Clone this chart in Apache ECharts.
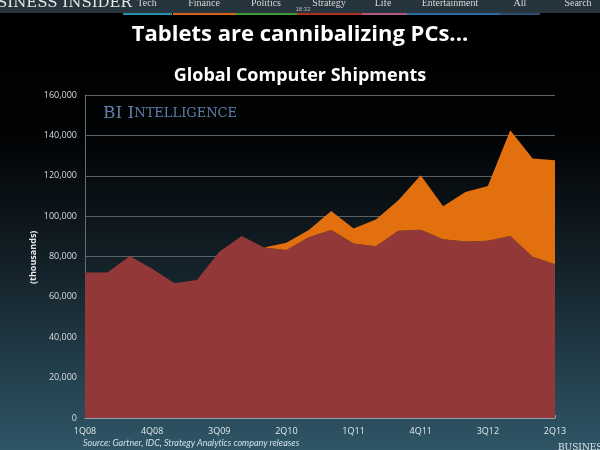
<!DOCTYPE html>
<html>
<head>
<meta charset="utf-8">
<script src="https://cdn.jsdelivr.net/npm/echarts@6/dist/echarts.min.js"></script>
<style>
  html, body { margin: 0; padding: 0; background: #000; }
  #main { width: 600px; height: 450px; }
</style>
</head>
<body>
<div id="main"></div>
<script>
// quarters 1Q08 .. 2Q13
var quarters = ['1Q08','2Q08','3Q08','4Q08','1Q09','2Q09','3Q09','4Q09','1Q10','2Q10','3Q10',
                '4Q10','1Q11','2Q11','3Q11','4Q11','1Q12','2Q12','3Q12','4Q12','1Q13','2Q13'];
// shipments, thousands
var pcs = [72100, 72100, 80200, 73900, 66700, 68300, 82300, 90200, 84500, 83200, 89500,
           93100, 86500, 85100, 92700, 93200, 88500, 87400, 87800, 90100, 79900, 76200];
var tablets = [null, null, null, null, null, null, null, null, 0, 3600, 3600,
               9500, 7400, 13200, 15200, 27100, 16400, 24500, 27100, 52500, 48600, 51500];
var yTicks = [0, 20000, 40000, 60000, 80000, 100000, 120000, 140000, 160000];

// top site nav bar (screenshot header)
var navItems = [['Tech', 147], ['Finance', 204], ['Politics', 266], ['Strategy', 329],
                ['Life', 383], ['Entertainment', 450], ['All', 520], ['Search', 578]];
var navStrips = [[123, 172, '#2a8fb0'], [173, 236, '#d9621c'], [236, 297, '#3a9a3a'],
                 [297, 362, '#b03020'], [362, 407, '#b05a80'], [407, 500, '#2a6aa0'], [500, 540, '#2a4f70']];

var myChart = echarts.init(document.getElementById('main'));

var graphics = [
    {type: 'rect', shape: {x: 0, y: 0, width: 600, height: 13}, style: {fill: '#26343d'}},
    {type: 'text', left: -3, top: -4, style: {text: 'SINESS INSIDER', fill: '#e8e8e8',
        font: '15px "DejaVu Serif", serif'}},
    {type: 'text', x: 303, y: 9, style: {text: '18:32', fill: '#bbbbbb', align: 'center',
        verticalAlign: 'middle', font: '6px sans-serif'}}
];
navItems.forEach(function (n) {
    graphics.push({type: 'text', x: n[1], y: 3, style: {text: n[0], fill: '#d8d8d8', align: 'center',
        verticalAlign: 'middle', font: '10px "Liberation Serif", serif'}});
});
navStrips.forEach(function (s) {
    graphics.push({type: 'rect', shape: {x: s[0], y: 13, width: s[1] - s[0], height: 2}, style: {fill: s[2]}});
});
graphics.push(
    {type: 'text', x: 103, y: 105, style: {
        text: '{a|BI I}{b|NTELLIGENCE}', fill: '#5f7fa8',
        rich: {
            a: {fontFamily: '"DejaVu Serif", serif', fontSize: 17, fill: '#5f7fa8'},
            b: {fontFamily: '"DejaVu Serif", serif', fontSize: 13, fill: '#5f7fa8', letterSpacing: 1}
        }}},
    {type: 'text', x: 311, y: 324, style: {text: 'PCs', fill: '#fff', verticalAlign: 'middle',
        font: 'bold 12px "Open Sans", sans-serif'}},
    {type: 'text', x: 485, y: 211, style: {text: 'Tablets', fill: '#fff', verticalAlign: 'middle',
        font: 'bold 11px "Open Sans", sans-serif'}},
    {type: 'text', x: 29, y: 284, rotation: Math.PI / 2, style: {text: '(thousands)', fill: '#e8e8e8',
        font: 'bold 9px "Open Sans", sans-serif'}},
    {type: 'text', x: 83, y: 443, style: {text: 'Source: Gartner, IDC, Strategy Analytics company releases',
        fill: '#cfe0ea', verticalAlign: 'middle', font: 'italic 9px Lato, sans-serif'}},
    {type: 'text', x: 558, y: 443, style: {text: 'BUSINESS', fill: '#dfe8ee',
        font: '9px "DejaVu Serif", serif'}}
);

option = {
    backgroundColor: {
        type: 'linear', x: 0, y: 0, x2: 0, y2: 1,
        colorStops: [
            {offset: 0, color: '#000000'},
            {offset: 0.3, color: '#010203'},
            {offset: 0.6, color: '#14222a'},
            {offset: 1, color: '#2f5666'}
        ]
    },
    title: [
        {text: 'Tablets are cannibalizing PCs...', left: 'center', top: 19,
         textStyle: {color: '#fff', fontSize: 22, fontWeight: 'bold', fontFamily: '"Open Sans", sans-serif'}},
        {text: 'Global Computer Shipments', left: 'center', top: 62,
         textStyle: {color: '#fff', fontSize: 18, fontWeight: 'bold', fontFamily: '"Open Sans", sans-serif'}}
    ],
    graphic: graphics,
    grid: {left: 85, right: 45, top: 95, bottom: 32},
    xAxis: {
        type: 'category',
        boundaryGap: false,
        data: quarters,
        axisLine: {lineStyle: {color: '#8aa0aa'}},
        axisTick: {show: true, inside: true, length: 3, lineStyle: {color: '#8aa0aa'}, interval: 0},
        axisLabel: {color: '#e0e8ec', fontSize: 9, interval: 2, margin: 9, fontFamily: '"Open Sans", sans-serif'},
        splitLine: {show: false}
    },
    yAxis: {
        type: 'value',
        min: 0, max: 160000, interval: 20000,
        axisLine: {show: true, lineStyle: {color: '#666e72'}},
        axisTick: {show: false},
        axisLabel: {
            color: '#d8dde0', fontSize: 9, margin: 8, fontFamily: '"Open Sans", sans-serif',
            formatter: function (v) {
                return yTicks.indexOf(v) >= 0 ? String(v).replace(/\B(?=(\d{3})+(?!\d))/g, ',') : '';
            }
        },
        splitLine: {lineStyle: {color: '#5b6064', width: 1}}
    },
    series: [
        {
            name: 'PCs', type: 'line', stack: 'all', data: pcs,
            symbol: 'none', lineStyle: {width: 0},
            areaStyle: {color: '#933838', opacity: 1},
            itemStyle: {color: '#933838'}
        },
        {
            name: 'Tablets', type: 'line', stack: 'all', data: tablets,
            symbol: 'none', lineStyle: {width: 0},
            areaStyle: {color: '#e3700f', opacity: 1},
            itemStyle: {color: '#e3700f'}
        }
    ]
};

myChart.setOption(option);
window.onresize = myChart.resize;
</script>
</body>
</html>
